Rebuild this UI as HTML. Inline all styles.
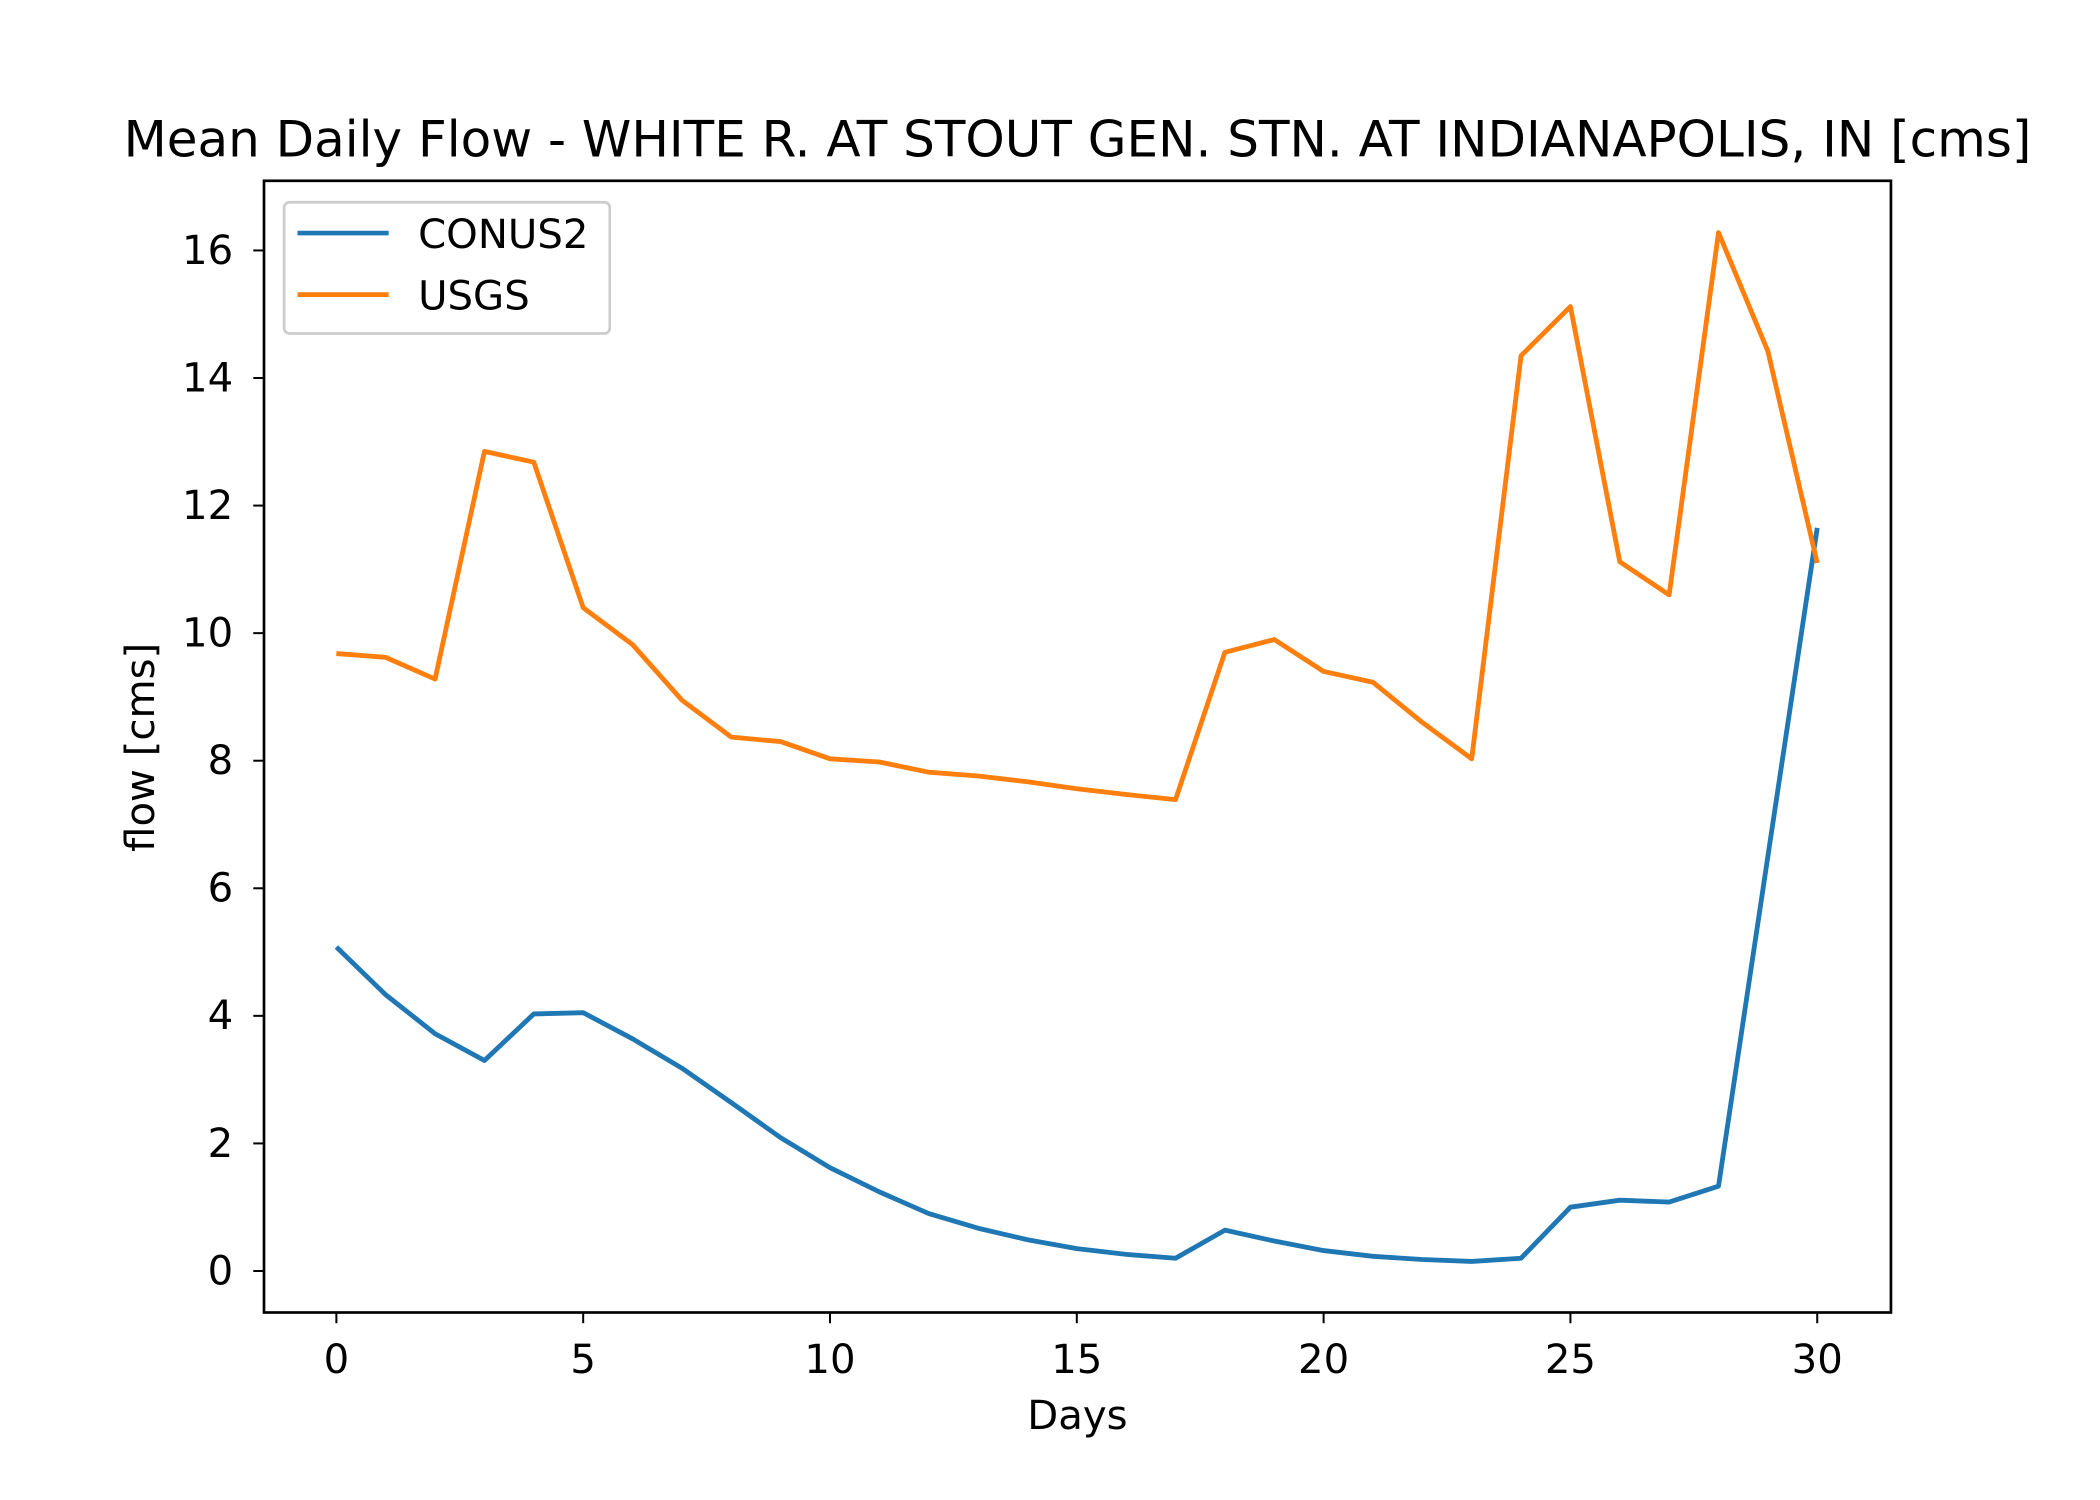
<!DOCTYPE html>
<html><head><meta charset="utf-8"><style>html,body{margin:0;padding:0;background:#fff}svg{display:block}</style></head>
<body>
<svg id="chart" width="2100" height="1500" viewBox="0 0 1567 1120" preserveAspectRatio="none" xmlns="http://www.w3.org/2000/svg" font-family="'DejaVu Sans','Liberation Sans',sans-serif">
<rect width="1567" height="1120" fill="#fff"/>
<text x="804" y="117" font-size="37.3" text-anchor="middle">Mean Daily Flow - WHITE R. AT STOUT GEN. STN. AT INDIANAPOLIS, IN [cms]</text>
<g id="plot"></g>
<rect x="197" y="135" width="1214" height="845" fill="none" stroke="#000" stroke-width="2"/>
<text x="804" y="1067" font-size="30" text-anchor="middle">Days</text>
<text transform="translate(115,558) rotate(-90)" font-size="30" text-anchor="middle">flow [cms]</text>
<g>
<rect x="212" y="151" width="243" height="98" rx="4" fill="#fff" stroke="#ccc" stroke-width="2"/>
<line x1="222" y1="174" x2="290" y2="174" stroke="#1f77b4" stroke-width="3.5"/>
<text x="312" y="185" font-size="30">CONUS2</text>
<line x1="222" y1="220" x2="290" y2="220" stroke="#ff7f0e" stroke-width="3.5"/>
<text x="312" y="231" font-size="30">USGS</text>
</g>
</svg>
<script>
const days = Array.from({length:31},(_,i)=>i);
const conus2 = [5.08,4.33,3.72,3.3,4.03,4.05,3.64,3.18,2.64,2.09,1.62,1.24,0.9,0.67,0.49,0.35,0.26,0.2,0.64,0.47,0.32,0.23,0.18,0.15,0.2,1.0,1.11,1.08,1.33,6.5,11.65];
const usgs = [9.68,9.62,9.28,12.85,12.68,10.4,9.82,8.95,8.37,8.3,8.03,7.98,7.82,7.76,7.67,7.56,7.47,7.39,9.7,9.9,9.4,9.23,8.6,8.03,14.35,15.12,11.12,10.6,16.28,14.42,11.1];
const xTicks = [0,5,10,15,20,25,30];
const yTicks = [0,2,4,6,8,10,12,14,16];
const NS='http://www.w3.org/2000/svg';
const xs = v => 251 + v*(1356-251)/30;
const ys = v => 949 - v*(949-187)/16;
const g = document.getElementById('plot');
function mk(t,a){const e=document.createElementNS(NS,t);for(const k in a)e.setAttribute(k,a[k]);g.appendChild(e);return e;}
xTicks.forEach(v=>{
  const l=mk('line',{x1:xs(v),x2:xs(v),y1:980,y2:988,stroke:'#000','stroke-width':1.5});
  
  
  const t=mk('text',{x:xs(v),y:1025,'font-size':30,'text-anchor':'middle'});
  t.textContent=v;
  
  
});
yTicks.forEach(v=>{
  const l=mk('line',{x1:189,x2:197,y1:ys(v),y2:ys(v),stroke:'#000','stroke-width':1.5});
  
  
  const t=mk('text',{x:174,y:ys(v)+10,'font-size':30,'text-anchor':'end'});
  t.textContent=v;
  
  
});
function line(arr,color,name){
  const p=mk('polyline',{points:arr.map((v,i)=>xs(days[i])+','+ys(v)).join(' '),fill:'none',stroke:color,'stroke-width':3.6,'stroke-linejoin':'round'});
  
  
}
line(conus2,'#1f77b4','conus2-line');
line(usgs,'#ff7f0e','usgs-line');
</script>
</body></html>
